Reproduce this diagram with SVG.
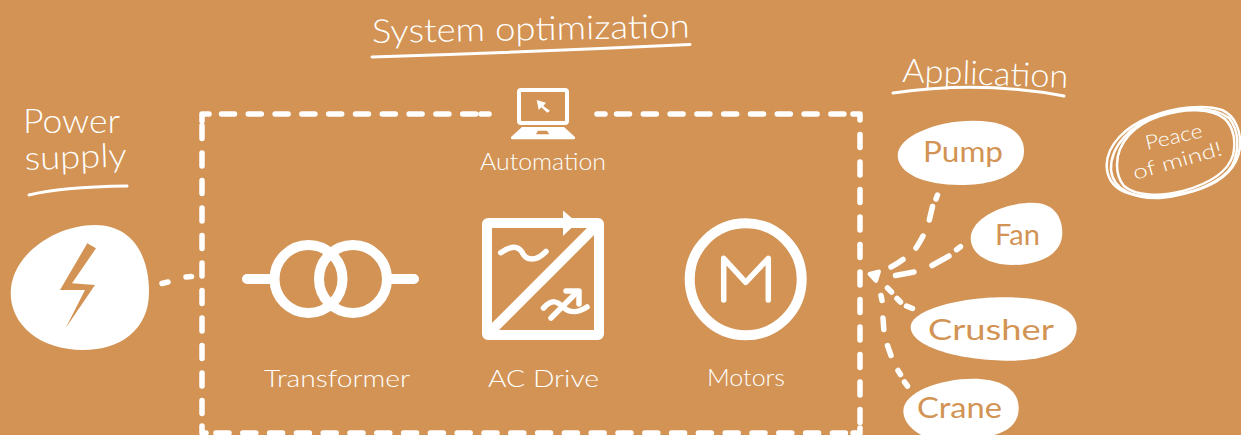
<svg xmlns="http://www.w3.org/2000/svg" width="1241" height="435" viewBox="0 0 1241 435">
<style>
text{font-family:"Lato","Open Sans","Liberation Sans",sans-serif;font-weight:300;fill:#fff}
.h{font-size:33px}
.l{font-size:23px}
.b{font-size:28px;fill:#d29354;font-weight:400}
.p{font-size:20px}
.w{fill:#fff}
.o{fill:#d29354}
.s{fill:none;stroke:#fff;stroke-width:10;stroke-linecap:round;stroke-linejoin:round}
.t{fill:none;stroke:#fff;stroke-width:5.500;stroke-linecap:round;stroke-linejoin:round}
.u{fill:none;stroke:#fff;stroke-width:3;stroke-linecap:round}
.dh{fill:none;stroke:#fff;stroke-width:5.500;stroke-linecap:round;stroke-dasharray:13 13.800}
.dv{fill:none;stroke:#fff;stroke-width:5.500;stroke-linecap:round;stroke-dasharray:13 14.500}
.c{fill:none;stroke:#fff;stroke-width:5.500;stroke-linecap:round;stroke-linejoin:round}
.a{fill:#fff;stroke:#fff;stroke-width:4;stroke-linejoin:round}
.r{fill:none;stroke:#fff;stroke-width:2.500}
</style>
<rect width="1241" height="435" fill="#d29354"/>
<g id="connectors">
<path class="c" d="M202 121V114H209"/>
<path class="dh" d="M221.500 114H477"/>
<path class="c" d="M481 114H489"/>
<path class="c" d="M597 114H605"/>
<path class="dh" d="M616.500 114H851"/>
<path class="c" d="M853 114H860V120"/>
<path class="dv" d="M860 134.500V425"/>
<path class="dv" d="M202 125.500V425"/>
<path class="c" d="M202 426V433H206"/>
<path class="dh" d="M216 433H851"/>
<path class="c" d="M853 433H860V428"/>
<path class="c" d="M162 283.500L168 282M186 277L191.500 276.500"/>
<path class="a" d="M869.500 274L879 271.500L876 281Z"/>
<path class="c" d="M937.500 195L936 199M932.500 206.500L929.300 220M923 236Q920 242 916 248M903 259.500Q897 264 891 267"/>
<path class="c" d="M960.500 246.700L956.500 249.700M949 256L932 265.500M914 272L895.500 275.500"/>
<path class="c" d="M887.500 288L891.500 292M897 298.500L900.500 302M906.500 306L912.500 308.500"/>
<path class="c" d="M881 295.500L882 300.500M883 318L883.800 329.500M887.500 345.500L891 355.500M898 370.500L900.500 374.500M904.500 382L907.500 386"/>
</g>
<g id="title-system"><text class="h" x="372" y="43" textLength="318" lengthAdjust="spacingAndGlyphs" transform="rotate(-1 372 43)">System optimization</text>
<path class="u" d="M372 57Q530 52 690 44.500"/></g>
<g id="title-application"><text class="h" x="902" y="82" textLength="166" lengthAdjust="spacingAndGlyphs" transform="rotate(2 902 82)">Application</text>
<path class="u" d="M893 93Q980 80 1064 96"/></g>
<g id="title-power"><text class="h" x="23" y="133" textLength="97" lengthAdjust="spacingAndGlyphs">Power</text>
<text class="h" x="25" y="170" textLength="102" lengthAdjust="spacingAndGlyphs" transform="rotate(-2 25 170)">supply</text>
<path class="u" d="M29 195Q60 187 127 186"/></g>
<g id="power-supply">
<path class="w" d="M95 225C132 225 149 255 149 292C149 330 120 350 83 350C40 350 10.700 325 10.700 293C10.700 255 55 225 95 225Z"/>
<path class="o" d="M87.300 243.300L60 290L85 290L65.700 328L95 285L72 283.300L96 248.300Z"/>
</g>
<g id="automation">
<rect x="519" y="90" width="48" height="33" rx="2" fill="none" stroke="#fff" stroke-width="4"/>
<path class="w" d="M522 127H564L575 137Q575.500 139.300 574 139.300H512Q510.500 139.300 511 137Z"/>
<path class="o" d="M538 130.700H547L549.300 134.300H536Z"/>
<path class="w" d="M536.700 100L546 102.700L543.300 106L550 110.700L547.300 112.700L541.300 107.300L538.700 110Z"/>
<text class="l" x="480" y="170" textLength="126" lengthAdjust="spacingAndGlyphs">Automation</text>
</g>
<g id="transformer">
<circle class="s" cx="308.500" cy="279" r="34"/>
<circle class="s" cx="353" cy="279" r="34"/>
<path class="s" d="M247 279H272M390 279H414"/>
<text class="l" x="264" y="387" textLength="146" lengthAdjust="spacingAndGlyphs">Transformer</text>
</g>
<g id="ac-drive">
<rect class="s" x="487" y="223" width="112" height="112" rx="1"/>
<path class="s" style="stroke-linecap:butt" d="M594 228L492 330"/>
<path class="w" d="M563 210.500L577 222.500L563 236Z"/>
<path class="t" d="M500.700 252.700C512 245 518 246 522 252C526 261 536 262 546 251.500"/>
<path class="t" d="M543.500 308C552 299 557 301 563 307C569 313 578 313 587 307"/>
<path class="t" d="M551 318L577 292"/>
<path class="t" d="M566 291H579V304"/>
<text class="l" x="488" y="387" textLength="111" lengthAdjust="spacingAndGlyphs">AC Drive</text>
</g>
<g id="motors">
<circle class="s" cx="745.700" cy="279.300" r="56"/>
<path class="t" d="M723.700 300V258.300L745.700 282.300L768.300 258.300V300"/>
<text class="l" x="707" y="386" textLength="78" lengthAdjust="spacingAndGlyphs">Motors</text>
</g>
<g id="pump">
<path class="w" d="M973 120.700C1008 120.700 1024 133 1024 151C1024 174 995 185 960 185C925 185 897.700 174 897.700 155C897.700 137 935 120.700 973 120.700Z"/>
<text class="b" x="923" y="162" textLength="80" lengthAdjust="spacingAndGlyphs">Pump</text>
</g>
<g id="fan">
<path class="w" d="M1033 202.700C1052 202.700 1062.300 215 1062.300 233C1062.300 254 1040 265 1013 265C988 265 970.700 254 970.700 238C970.700 220 1000 202.700 1033 202.700Z"/>
<text class="b" x="995" y="245" textLength="45" lengthAdjust="spacingAndGlyphs">Fan</text>
</g>
<g id="crusher">
<path class="w" d="M1003 297.300C1048 297.300 1076.700 308 1076.700 328C1076.700 352 1040 360.700 1010 360.700C960 360.700 910.700 347 910.700 327C910.700 310 960 297.300 1003 297.300Z"/>
<text class="b" x="928" y="340" textLength="126" lengthAdjust="spacingAndGlyphs">Crusher</text>
</g>
<g id="crane">
<path class="w" d="M973 378.700C1002 378.700 1018.700 390 1018.700 408C1018.700 425 1005 437 975 437H925C910 430 903.300 420 903.300 411C903.300 392 940 378.700 973 378.700Z"/>
<text class="b" x="917" y="418" textLength="85" lengthAdjust="spacingAndGlyphs">Crane</text>
</g>
<g id="peace-of-mind">
<path class="r" d="M1106.700 165C1107 145 1125 127 1150 117C1175 107 1205 104 1222 110C1236 116 1241 132 1240 147C1238 165 1225 180 1200 189C1175 197 1145 200 1125 192C1112 187 1106.500 176 1106.700 165Z"/>
<path class="r" d="M1117 165C1117 142 1135 124 1160 116C1185 108 1212 108 1225 119C1234 128 1236 142 1233 155C1228 172 1208 184 1183 191C1160 197 1135 196 1124 186C1119 180 1117 172 1117 165Z"/>
<path class="r" d="M1111 170C1110 146 1130 126 1160 114C1185 106 1215 107 1229 118C1239 130 1240 150 1232 166C1222 183 1190 195 1160 198C1135 199 1113 190 1111 170Z"/>
<text class="p" x="1147" y="150" textLength="58" lengthAdjust="spacingAndGlyphs" transform="rotate(-13 1147 150)">Peace</text>
<text class="p" x="1135" y="180" textLength="92" lengthAdjust="spacingAndGlyphs" transform="rotate(-16 1135 180)">of mind!</text>
</g>
</svg>
